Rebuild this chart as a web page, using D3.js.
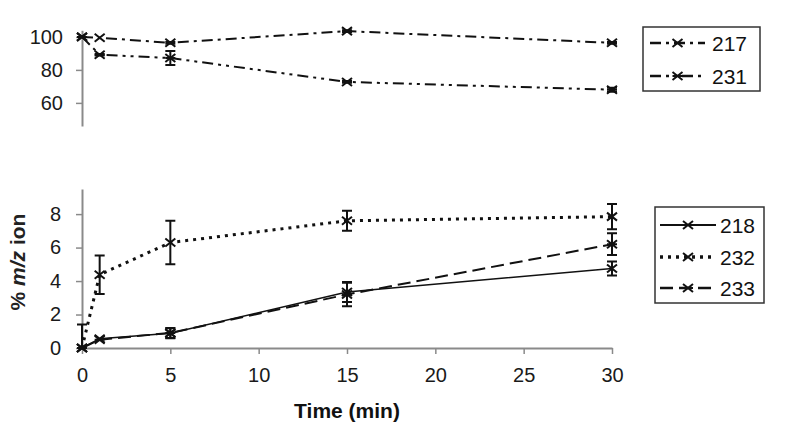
<!DOCTYPE html>
<html><head><meta charset="utf-8">
<script src="https://cdn.jsdelivr.net/npm/d3@7"></script>
<style>body{margin:0;background:#fff}svg{display:block}text{font-family:"Liberation Sans",Arial,sans-serif}</style>
</head><body><svg id="c" width="800" height="439"></svg>
<script>
const times = [0, 1, 5, 15, 30];
const xTicks = [0, 5, 10, 15, 20, 25, 30];
const topTicks = [60, 80, 100];
const botTicks = [0, 2, 4, 6, 8];

const s217 = [100, 99.5, 96.4, 103.5, 96.4];
const s217err = [0, 0, 0.5, 0.5, 0.5];
const s231 = [100, 89.2, 87.2, 72.7, 68];
const s231err = [0, 0.5, 4.2, 0.5, 1.2];

const s218 = [0, 0.55, 0.88, 3.35, 4.75];
const s218err = [0, 0.15, 0.3, 0.6, 0.42];
const s232 = [0, 4.38, 6.3, 7.6, 7.85];
const s232err = [1.4, 1.15, 1.3, 0.6, 0.75];
const s233 = [0, 0.5, 0.9, 3.2, 6.2];
const s233err = [0, 0.15, 0.3, 0.7, 0.65];

const svg = d3.select("#c");
const x = d3.scaleLinear().domain([0, 30]).range([82, 612]);
const yT = d3.scaleLinear().domain([46, 104]).range([126, 30.3]);
const yB = d3.scaleLinear().domain([0, 9.5]).range([348, 189]);

const axisCol = "#8a8a8a";

function styleAxis(g) {
  g.selectAll(".domain").attr("stroke", axisCol).attr("stroke-width", 2);
  g.selectAll(".tick line").attr("stroke", axisCol).attr("stroke-width", 1.5);
  g.selectAll(".tick text").attr("fill", "#1a1a1a").style("font-size", "20px")
    .style("font-family", '"Liberation Sans",Arial,sans-serif');
}

// top y axis
svg.append("g").attr("transform", "translate(82,0)")
  .call(d3.axisLeft(yT).tickValues(topTicks).tickSize(6).tickSizeOuter(0).tickPadding(13))
  .call(styleAxis);
// bottom y axis
svg.append("g").attr("transform", "translate(82,0)")
  .call(d3.axisLeft(yB).tickValues(botTicks).tickSize(6).tickSizeOuter(0).tickPadding(15))
  .call(styleAxis);
// x axis
svg.append("g").attr("transform", "translate(0,348)")
  .call(d3.axisBottom(x).tickValues(xTicks).tickSize(6).tickSizeOuter(0).tickPadding(14))
  .call(styleAxis);

svg.append("text").attr("x", 347).attr("y", 418).attr("text-anchor", "middle")
  .style("font-size", "21px").style("font-weight", "bold").attr("fill", "#111").text("Time (min)");

const yl = svg.append("text").attr("transform", "translate(25,262) rotate(-90)")
  .attr("text-anchor", "middle").style("font-size", "21px").style("font-weight", "bold").attr("fill", "#222");
yl.append("tspan").text("% ");
yl.append("tspan").style("font-style", "italic").text("m/z");
yl.append("tspan").text(" ion");

// markers
function crossPath(s) { return `M${-s},${-s*0.8}L${s},${s*0.8}M${-s},${s*0.8}L${s},${-s*0.8}`; }
function starPath(s) { return crossPath(s) + `M${-s},0L${s},0`; }

const series = [
  {name: "217", vals: s217, err: s217err, y: yT, dash: "11,5,3,5", w: 2, mk: crossPath, ms: 5},
  {name: "231", vals: s231, err: s231err, y: yT, dash: "11,5,3,5,3,5", w: 2, mk: starPath, ms: 5},
  {name: "218", vals: s218, err: s218err, y: yB, dash: null, w: 1.5, mk: crossPath, ms: 5},
  {name: "232", vals: s232, err: s232err, y: yB, dash: "3,5", w: 3, mk: crossPath, ms: 5},
  {name: "233", vals: s233, err: s233err, y: yB, dash: "13,6", w: 2, mk: starPath, ms: 5},
];

series.forEach(s => {
  const pts = times.map((t, i) => ({t, v: s.vals[i], e: s.err[i]}));
  const line = d3.line().x(d => x(d.t)).y(d => s.y(d.v));
  svg.append("path").datum(pts).attr("d", line).attr("fill", "none")
    .attr("stroke", "#111").attr("stroke-width", s.w)
    .attr("stroke-dasharray", s.dash);
  const eb = svg.append("g").attr("stroke", "#111").attr("stroke-width", 2);
  pts.filter(d => d.e > 0.2).forEach(d => {
    const cx = x(d.t), y1 = s.y(d.v + d.e), y2 = s.y(d.v - d.e);
    const lo = d.t === 0 ? s.y(d.v) : y2;
    eb.append("path").attr("d", `M${cx},${y1}L${cx},${lo}M${cx-5},${y1}L${cx+5},${y1}` + (d.t === 0 ? "" : `M${cx-5},${y2}L${cx+5},${y2}`));
  });
  svg.append("g").selectAll("path").data(pts).join("path")
    .attr("transform", d => `translate(${x(d.t)},${s.y(d.v)})`)
    .attr("d", s.mk(s.ms)).attr("fill", "none").attr("stroke", "#111").attr("stroke-width", 2);
});

// legends
function legend(items, bx, by, bw, bh, rowY, lx1, lx2, tx) {
  svg.append("rect").attr("x", bx).attr("y", by).attr("width", bw).attr("height", bh)
    .attr("fill", "none").attr("stroke", "#333").attr("stroke-width", 1.5);
  items.forEach((s, i) => {
    const yy = rowY[i];
    svg.append("line").attr("x1", lx1).attr("x2", lx2).attr("y1", yy).attr("y2", yy)
      .attr("stroke", "#111").attr("stroke-width", s.w + 0.5).attr("stroke-dasharray", s.dash);
    svg.append("path").attr("transform", `translate(${(lx1 + lx2) / 2},${yy})`)
      .attr("d", s.mk(s.ms)).attr("fill", "none").attr("stroke", "#111").attr("stroke-width", 2);
    svg.append("text").attr("x", tx).attr("y", yy).attr("dy", "0.36em")
      .style("font-size", "21px").attr("fill", "#111").text(s.name);
  });
}
legend(series.slice(0, 2), 643, 27, 117, 64, [43, 76], 650, 705, 712);
legend(series.slice(2), 655, 207, 109, 96, [225, 257, 288], 660, 716, 720);
</script></body></html>
